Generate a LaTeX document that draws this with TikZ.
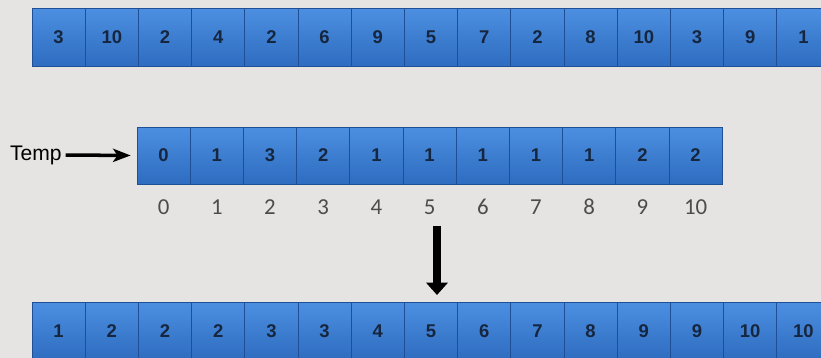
\documentclass[tikz,border=0pt]{standalone}
\usepackage{fontspec}
\setmainfont{Liberation Sans}
\newfontfamily\idxfont{Carlito}
\usetikzlibrary{positioning, arrows.meta}
\definecolor{cellhi}{HTML}{4C8FE0}
\definecolor{celllo}{HTML}{2E6CC0}
\definecolor{celledge}{HTML}{1F4F96}
\definecolor{paper}{HTML}{E6E4E2}
\definecolor{digit}{HTML}{16263F}

\begin{document}
\begin{tikzpicture}[
        x=0.02cm, y=-0.02cm,
        every node/.style={font=\fontsize{12}{14}\selectfont},
        cell/.style={rectangle, draw=celledge, top color=cellhi, bottom color=celllo, minimum width=1.064cm, minimum height=1.16cm, inner sep=0pt, text=digit, font=\bfseries\fontsize{10.5}{12}\selectfont},
        index/.style={font=\idxfont\fontsize{13}{15}\selectfont, text=black!70},
    ]
        % Background
        \useasboundingbox (0,0) rectangle (821,358);
        \fill[paper] (0,0) rectangle (821,358);
        \clip (0,0) rectangle (821,358);

        % Input array
        \foreach \v [count=\i from 0] in {3,10,2,4,2,6,9,5,7,2,8,10,3,9,1}
            \node[cell] (in\i) at (58.6+53.2*\i, 37.5) {\v};

        % Count array with its indices
        \foreach \v [count=\i from 0] in {0,1,3,2,1,1,1,1,1,2,2} {
            \node[cell, minimum height=1.14cm] (tmp\i) at (163.6+53.2*\i, 155.5) {\v};
            \node[index] (idx\i) at (163.6+53.2*\i, 207) {\i};
        }
        \node[anchor=east, inner sep=0pt] (temp) at (62,155) {Temp};

        % Sorted array
        \foreach \v [count=\i from 0] in {1,2,2,2,3,3,4,5,6,7,8,9,9,10,10}
            \node[cell] (out\i) at (58.6+53.2*\i, 331) {\v};

        % Arrows
        \coordinate (drop) at (437,226);
        \coordinate (land) at (437,295);
        \draw[-{Stealth[length=10pt, width=7.5pt, inset=2.5pt]}, line width=2pt, shorten >=0.12cm, shorten <=2pt] (temp.east) -- (tmp0.west);
        \draw[-{Triangle[length=7pt, width=12pt]}, line width=4pt] (drop) -- (land);

    \end{tikzpicture}
\end{document}
